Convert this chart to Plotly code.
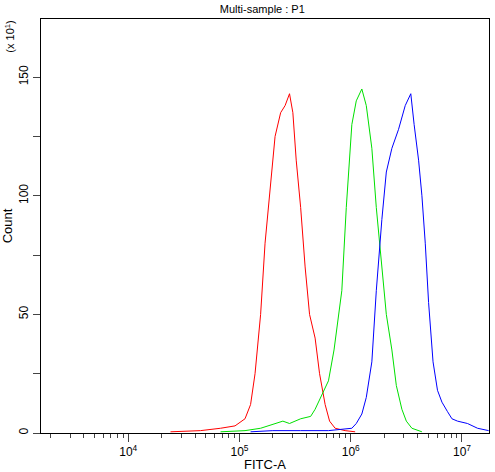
import plotly.graph_objs as go

# log10(FITC-A) positions and counts (x10^1)
red_x = [4.38, 4.65, 4.83, 4.96, 5.05, 5.10, 5.14, 5.19, 5.23, 5.28, 5.32, 5.37, 5.41, 5.45,
         5.48, 5.51, 5.55, 5.59, 5.63, 5.68, 5.72, 5.77, 5.81, 5.86, 5.95, 6.04]
red_y = [0.5, 1, 2, 3, 6, 12, 25, 50, 80, 105, 125, 135, 138, 143,
         135, 115, 95, 70, 50, 40, 25, 12, 5, 2, 1, 0.5]

green_x = [4.83, 5.05, 5.19, 5.39, 5.45, 5.55, 5.64, 5.68, 5.74, 5.80, 5.85, 5.92, 5.96,
           6.01, 6.05, 6.10, 6.14, 6.19, 6.23, 6.28, 6.32, 6.37, 6.41, 6.46, 6.50, 6.55, 6.64]
green_y = [0.5, 1, 2, 5, 4, 6, 7, 10, 16, 22, 35, 60, 95,
           130, 140, 145, 138, 120, 95, 70, 50, 35, 20, 10, 5, 2, 0.5]

blue_x = [5.10, 5.30, 5.55, 5.80, 6.01, 6.05, 6.10, 6.14, 6.19, 6.23, 6.28, 6.32, 6.37, 6.43,
          6.49, 6.54, 6.57, 6.61, 6.64, 6.67, 6.70, 6.74, 6.78, 6.82, 6.87, 6.91, 6.96, 7.05,
          7.14, 7.24]
blue_y = [0.5, 1, 1, 1, 2, 4, 8, 15, 30, 60, 90, 110, 120, 128,
          138, 143, 130, 115, 100, 80, 55, 30, 18, 13, 9, 6, 5, 4, 2, 1]

decades = [4, 5, 6, 7]
decade_labels = ["10<sup>4</sup>", "10<sup>5</sup>", "10<sup>6</sup>", "10<sup>7</sup>"]
minor_vals = [k * 10 ** d for d in range(3, 8) for k in range(2, 10)]

fig = go.Figure()
for xs, ys, col in [(red_x, red_y, "red"), (green_x, green_y, "#00e000"), (blue_x, blue_y, "blue")]:
    fig.add_trace(go.Scatter(x=[10 ** v for v in xs], y=ys, mode="lines",
                             line=dict(color=col, width=1), showlegend=False))

font = dict(family="Liberation Sans, Arial", size=11, color="black")
fig.update_layout(
    width=495, height=472,
    margin=dict(l=41, r=6, t=19, b=39, autoexpand=False),
    plot_bgcolor="white", paper_bgcolor="white",
    font=font,
    title=dict(text="Multi-sample : P1", x=0.53, y=0.988, xanchor="center", font=dict(size=11)),
    xaxis=dict(type="log", range=[3.216, 7.243], tickvals=[10 ** d for d in decades],
               ticktext=decade_labels, ticks="outside", ticklen=8, showgrid=False,
               tickfont=dict(size=12),
               showline=True, linecolor="black", mirror=True, zeroline=False, automargin=False,
               minor=dict(tickmode="array", tickvals=minor_vals, ticks="outside", ticklen=4,
                          showgrid=False),
               title=dict(text="FITC-A", standoff=2)),
    yaxis=dict(range=[0, 174.5], tickvals=[0, 50, 100, 150], ticks="outside", ticklen=7,
               tickangle=-90, showgrid=False, showline=True, linecolor="black", mirror=True,
               zeroline=False, automargin=False, tickfont=dict(size=12),
               minor=dict(dtick=25, tick0=0, ticks="outside", ticklen=7),
               title=dict(text="Count", standoff=4)),
)
fig.add_annotation(text="(x 10<sup>1</sup>)", xref="paper", yref="paper", x=-0.07, y=1.0,
                   textangle=-90, showarrow=False, xanchor="center", yanchor="top", font=font)
fig.write_html("out.html", config={"displayModeBar": False},
               post_script="document.body.style.margin='0';document.body.style.overflow='hidden';")
